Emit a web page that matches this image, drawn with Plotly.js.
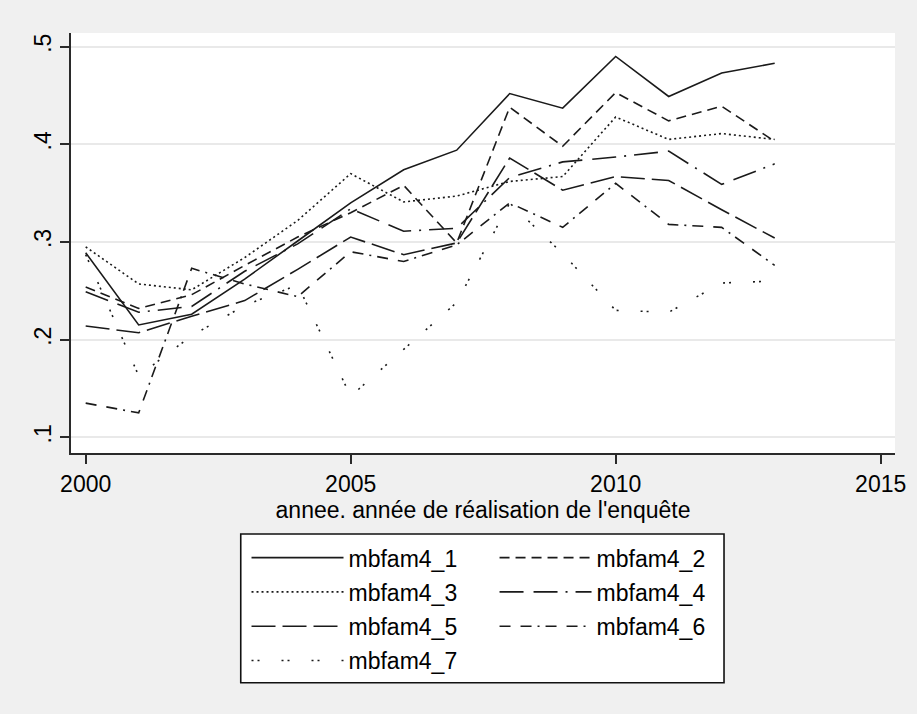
<!DOCTYPE html>
<html>
<head>
<meta charset="utf-8">
<script src="https://cdn.plot.ly/plotly-3.0.1.min.js"></script>
<style>html,body{margin:0;padding:0;background:#f0f0f0;}#chart{width:917px;height:714px;}</style>
</head>
<body>
<div id="chart"></div>
<script>
// ---- data ----
var years = [2000,2001,2002,2003,2004,2005,2006,2007,2008,2009,2010,2011,2012,2013];
var mbfam4_1 = [0.289,0.215,0.226,0.262,0.301,0.340,0.374,0.394,0.452,0.437,0.490,0.449,0.473,0.483];
var mbfam4_2 = [0.254,0.232,0.246,0.276,0.305,0.330,0.358,0.299,0.438,0.398,0.453,0.424,0.439,0.403];
var mbfam4_3 = [0.295,0.257,0.251,0.284,0.322,0.370,0.341,0.347,0.362,0.367,0.428,0.405,0.411,0.405];
var mbfam4_4 = [0.249,0.228,0.234,0.270,0.298,0.334,0.311,0.314,0.366,0.382,0.387,0.393,0.359,0.380];
var mbfam4_5 = [0.214,0.207,0.224,0.240,0.272,0.305,0.287,0.299,0.386,0.353,0.367,0.363,0.333,0.304];
var mbfam4_6 = [0.135,0.125,0.273,0.257,0.244,0.290,0.280,0.297,0.340,0.315,0.360,0.318,0.315,0.276];
var mbfam4_7 = [0.287,0.163,0.204,0.235,0.256,0.142,0.190,0.238,0.340,0.288,0.230,0.228,0.258,0.260];
var seriesNames = ['mbfam4_1','mbfam4_2','mbfam4_3','mbfam4_4','mbfam4_5','mbfam4_6','mbfam4_7'];
var xTickVals = [2000,2005,2010,2015];
var xTickText = ['2000','2005','2010','2015'];
var yTickVals = [0.1,0.2,0.3,0.4,0.5];
var yTickText = ['.1','.2','.3','.4','.5'];
var xTitle = "annee. année de réalisation de l'enquête";

var seriesValues = [mbfam4_1,mbfam4_2,mbfam4_3,mbfam4_4,mbfam4_5,mbfam4_6,mbfam4_7];
var dashes = ['solid','10px,6px','2px,3px','24px,10px,24px,8px,2px,8px','24px,7px','11px,10px,11px,6px,2px,6px','2px,4px,2px,22px'];
var legendOf = ['legend','legend2','legend','legend2','legend','legend2','legend'];

var FONT = '"Liberation Sans", Arial, sans-serif';
var traces = seriesValues.map(function(v,i){
  return {
    x: years, y: v, type: 'scatter', mode: 'lines', name: seriesNames[i],
    legend: legendOf[i], legendgroup: 'g'+i,
    line: {color: '#1a1a1a', width: 1.6, dash: dashes[i]}
  };
});

var legendCommon = {
  orientation: 'v', xanchor: 'left', yanchor: 'top',
  bgcolor: 'rgba(0,0,0,0)', borderwidth: 0,
  font: {family: FONT, size: 23, color: '#000'},
  itemwidth: 92, traceorder: 'grouped', tracegroupgap: 1.4
};

var layout = {
  width: 917, height: 714,
  paper_bgcolor: '#f0f0f0', plot_bgcolor: '#ffffff',
  margin: {l: 71, r: 22, t: 33, b: 261, autoexpand: false},
  font: {family: FONT, size: 23, color: '#000'},
  showlegend: true,
  xaxis: {
    range: [1999.723, 2015.27], tickvals: xTickVals, ticktext: xTickText,
    showgrid: false, zeroline: false,
    showline: true, linecolor: '#2a2a2a', linewidth: 2,
    ticks: 'outside', ticklen: 9, tickwidth: 2, tickcolor: '#2a2a2a',
    tickfont: {family: FONT, size: 23, color: '#000'},
    title: {text: xTitle, font: {family: FONT, size: 23, color: '#000'}, standoff: 4}
  },
  yaxis: {
    range: [0.0839, 0.514], tickvals: yTickVals, ticktext: yTickText,
    showgrid: true, gridcolor: '#e9e9e9', gridwidth: 2, zeroline: false,
    showline: true, linecolor: '#2a2a2a', linewidth: 2,
    ticks: 'outside', ticklen: 9, tickwidth: 2, tickcolor: '#2a2a2a',
    tickangle: -90,
    tickfont: {family: FONT, size: 23, color: '#000'}
  },
  legend: Object.assign({}, legendCommon, {x: 0.213, y: -0.198}),
  legend2: Object.assign({}, legendCommon, {x: 0.514, y: -0.198}),
  shapes: [{
    type: 'rect', xref: 'paper', yref: 'paper', layer: 'above',
    x0: 0.206, x1: 0.7925, y0: -0.547, y1: -0.193,
    fillcolor: '#ffffff', line: {color: '#111', width: 1.6}
  }]
};

Plotly.newPlot('chart', traces, layout, {displayModeBar: false, staticPlot: true});
</script>
</body>
</html>
